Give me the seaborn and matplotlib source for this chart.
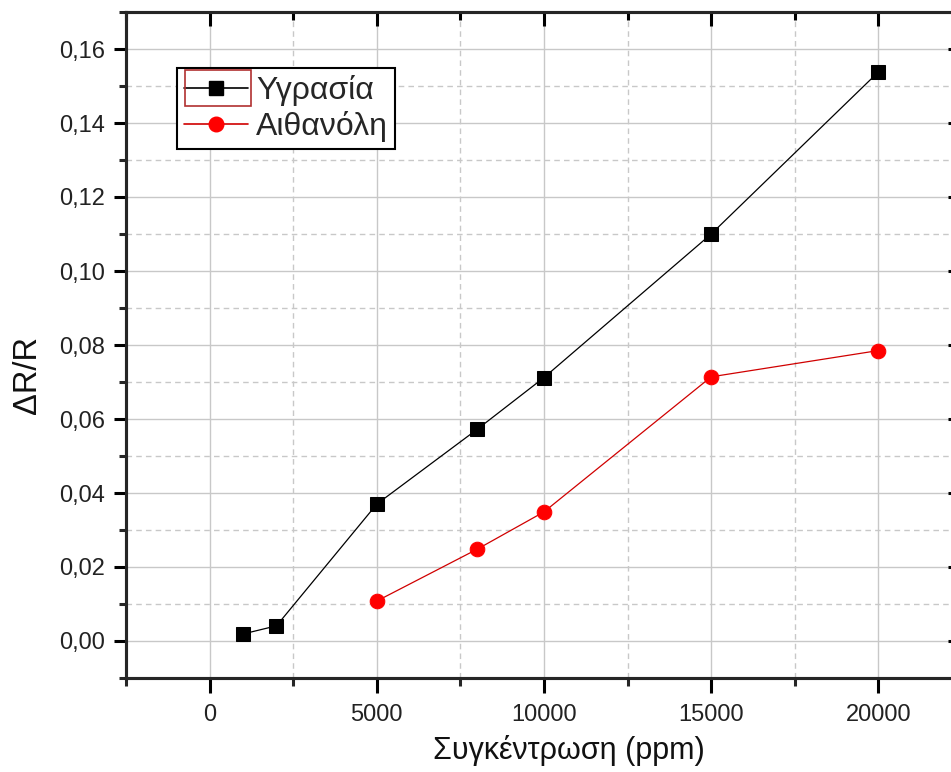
import matplotlib
matplotlib.use('Agg')
import matplotlib.pyplot as plt
import seaborn as sns
from matplotlib.ticker import MultipleLocator, FuncFormatter, NullFormatter
from matplotlib.patches import Rectangle
from matplotlib.lines import Line2D

# Data
conc_h = [1000, 2000, 5000, 8000, 10000, 15000, 20000]
dr_h = [0.0019, 0.0041, 0.0370, 0.0572, 0.0712, 0.1100, 0.1538]
conc_e = [5000, 8000, 10000, 15000, 20000]
dr_e = [0.0108, 0.0248, 0.0349, 0.0714, 0.0785]
label_h = 'Υγρασία'
label_e = 'Αιθανόλη'
xlabel = 'Συγκέντρωση (ppm)'
ylabel = 'ΔR/R'

sns.set_style('white')
plt.rcParams['font.family'] = ['Liberation Sans', 'DejaVu Sans']

W, H = 951, 772
fig = plt.figure(figsize=(W / 100, H / 100), dpi=100)
ax = fig.add_axes([126 / W, (H - 678) / H, (962 - 126) / W, (678 - 12) / H])

sns.lineplot(x=conc_h, y=dr_h, ax=ax, color='black', marker='s', markersize=10.5,
             markeredgecolor='black', lw=0.9, sort=False, zorder=3)
sns.lineplot(x=conc_e, y=dr_e, ax=ax, color='#d00000', marker='o', markersize=10.5,
             markeredgecolor='#ff0000', markerfacecolor='#ff0000', lw=0.9, sort=False, zorder=3)

ax.set_xlim(-2500, 22500)
ax.set_ylim(-0.01, 0.17)
ax.xaxis.set_major_locator(MultipleLocator(5000))
ax.xaxis.set_minor_locator(MultipleLocator(2500))
ax.yaxis.set_major_locator(MultipleLocator(0.02))
ax.yaxis.set_minor_locator(MultipleLocator(0.01))
ax.yaxis.set_major_formatter(FuncFormatter(lambda v, p: f'{v:.2f}'.replace('.', ',').replace('-0,00', '0,00')))
ax.xaxis.set_major_formatter(FuncFormatter(lambda v, p: f'{int(round(v))}'))

ax.set_axisbelow(True)
ax.grid(True, which='major', color='#c8c8c8', lw=1.0, ls='-')
ax.grid(True, which='minor', color='#c8c8c8', lw=1.0, ls=(0, (4, 3)))

for s in ax.spines.values():
    s.set_linewidth(2.2)
    s.set_color('black')

ax.tick_params(axis='both', which='major', labelsize=17, width=2.2, colors='black', labelcolor='#222222')
ax.tick_params(axis='x', which='major', length=11, direction='out', pad=8, bottom=True, top=False)
ax.tick_params(axis='x', which='minor', length=6, width=2.2, direction='out', bottom=True, top=False)
ax.tick_params(axis='y', which='major', length=9, direction='out', pad=6, left=True, right=False)
ax.tick_params(axis='y', which='minor', length=5, width=2.2, direction='out', left=True, right=False)

# inward ticks on top / right via twin axes
axt = ax.twiny()
axt.set_xlim(ax.get_xlim())
axt.xaxis.set_major_locator(MultipleLocator(5000))
axt.xaxis.set_minor_locator(MultipleLocator(2500))
axt.xaxis.set_major_formatter(NullFormatter())
axt.tick_params(axis='x', which='major', direction='in', length=10, width=2.2, color='black')
axt.tick_params(axis='x', which='minor', direction='in', length=6, width=2.2, color='black')
axt.tick_params(axis='y', left=False, right=False, labelleft=False, labelright=False)
for s in axt.spines.values():
    s.set_linewidth(2.2)
axt.grid(False)

axr = ax.twinx()
axr.set_ylim(ax.get_ylim())
axr.yaxis.set_major_locator(MultipleLocator(0.02))
axr.yaxis.set_minor_locator(MultipleLocator(0.01))
axr.yaxis.set_major_formatter(NullFormatter())
axr.tick_params(axis='y', which='major', direction='in', length=10, width=2.2, color='black')
axr.tick_params(axis='y', which='minor', direction='in', length=6, width=2.2, color='black')
axr.tick_params(axis='x', bottom=False, top=False, labelbottom=False, labeltop=False)
axr.grid(False)

ax.set_xlabel(xlabel, fontsize=22, color='#111111')
ax.set_ylabel(ylabel, fontsize=23.5, color='#111111')
ax.xaxis.set_label_coords((569 - 126) / 836, -0.085)
ax.yaxis.set_label_coords(-0.099, (678 - 375) / 666)

handles = [
    Line2D([], [], color='black', lw=1.2, marker='s', markersize=10.5, markerfacecolor='black', markeredgecolor='black'),
    Line2D([], [], color='#d00000', lw=1.2, marker='o', markersize=10.5, markerfacecolor='#ff0000', markeredgecolor='#ff0000'),
]
leg = axr.legend(handles, [label_h, label_e], loc='upper left',
                 bbox_to_anchor=(177 / W, (H - 68) / H), bbox_transform=fig.transFigure,
                 fontsize=23, frameon=True, fancybox=False, edgecolor='black',
                 borderpad=0.22, labelspacing=0.15, handlelength=2.0, handletextpad=0.25,
                 borderaxespad=0)
leg.get_frame().set_linewidth(1.5)
leg.get_frame().set_alpha(1)

# red selection box around the first legend handle (Origin style)
fig.canvas.draw()
r = fig.canvas.get_renderer()
bb = leg.legend_handles[0].get_window_extent(r)
fb = leg.get_frame().get_window_extent(r)
cy = (bb.y0 + bb.y1) / 2
fig.patches.append(Rectangle((fb.x0 + 8, cy - 18), 66, 36,
                             transform=None, fill=False,
                             edgecolor='#b03030', lw=1.2, zorder=10))

fig.savefig('out.png', dpi=100)
